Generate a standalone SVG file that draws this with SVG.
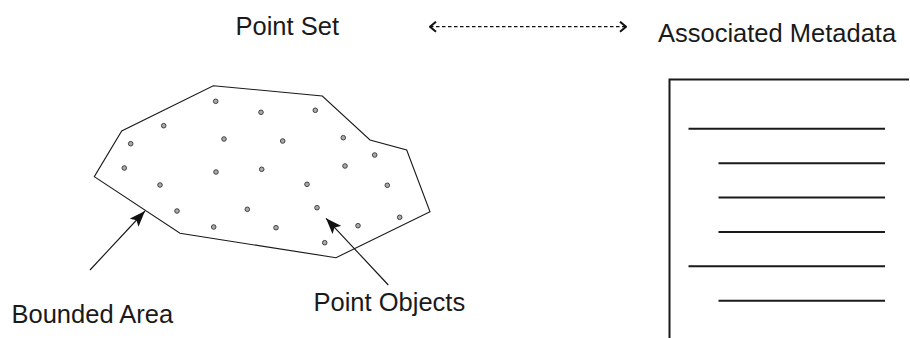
<svg xmlns="http://www.w3.org/2000/svg" width="910" height="338" viewBox="0 0 910 338">
<defs>
<style>
.lbl{font-family:"Liberation Sans",Arial,sans-serif;font-size:25.5px;fill:#1a1a1a}
.dot{fill:#aaa;stroke:#333;stroke-width:0.9}
.thin{fill:none;stroke:#1a1a1a;stroke-width:1.1}
.doc{fill:none;stroke:#1a1a1a;stroke-width:2}
</style>
<marker id="solid" viewBox="0 0 16 12" refX="16" refY="6" markerWidth="16" markerHeight="12" markerUnits="userSpaceOnUse" orient="auto">
<path d="M0,0 L16,6 L0,12 L3.5,6 Z" fill="#111"/>
</marker>
<marker id="chev" viewBox="0 0 8 12" refX="7" refY="6" markerWidth="8" markerHeight="12" markerUnits="userSpaceOnUse" orient="auto-start-reverse">
<path d="M1,1 L7,6 L1,11" fill="none" stroke="#111" stroke-width="2"/>
</marker>
</defs>
<rect width="910" height="338" fill="#fff"/>

<g id="point-set-label"><text class="lbl" x="235.5" y="35">Point Set</text></g>
<g id="metadata-label"><text class="lbl" x="658" y="41.5">Associated Metadata</text></g>

<g id="point-set">
<polygon class="thin" points="213.3,85.7 322.3,96 370,140 406.7,150 430,211.7 336,257.7 180,233.3 94.3,176.7 121.7,131"/>
<g>
<circle class="dot" cx="215.7" cy="101.3" r="2.3"/>
<circle class="dot" cx="261" cy="112.3" r="2.3"/>
<circle class="dot" cx="315.3" cy="110.3" r="2.3"/>
<circle class="dot" cx="163.7" cy="125.7" r="2.3"/>
<circle class="dot" cx="130.7" cy="143.7" r="2.3"/>
<circle class="dot" cx="224" cy="139" r="2.3"/>
<circle class="dot" cx="282.7" cy="141" r="2.3"/>
<circle class="dot" cx="343.3" cy="137.7" r="2.3"/>
<circle class="dot" cx="374.7" cy="155" r="2.3"/>
<circle class="dot" cx="124.3" cy="168" r="2.3"/>
<circle class="dot" cx="216" cy="172" r="2.3"/>
<circle class="dot" cx="261.7" cy="169.3" r="2.3"/>
<circle class="dot" cx="345" cy="166" r="2.3"/>
<circle class="dot" cx="160" cy="185" r="2.3"/>
<circle class="dot" cx="307" cy="184.3" r="2.3"/>
<circle class="dot" cx="387.3" cy="185.3" r="2.3"/>
<circle class="dot" cx="177" cy="211" r="2.3"/>
<circle class="dot" cx="247.3" cy="209.3" r="2.3"/>
<circle class="dot" cx="317" cy="207.7" r="2.3"/>
<circle class="dot" cx="399.7" cy="217.3" r="2.3"/>
<circle class="dot" cx="213.7" cy="227" r="2.3"/>
<circle class="dot" cx="276" cy="227.7" r="2.3"/>
<circle class="dot" cx="358" cy="225.7" r="2.3"/>
<circle class="dot" cx="324.7" cy="242.7" r="2.3"/>
</g>
</g>

<g id="metadata-doc">
<path class="doc" d="M669.5,345 V79.5 H909"/>
<line class="doc" x1="688.5" y1="128.7" x2="885" y2="128.7"/>
<line class="doc" x1="718.5" y1="163.3" x2="885" y2="163.3"/>
<line class="doc" x1="718.5" y1="197.5" x2="885" y2="197.5"/>
<line class="doc" x1="718.5" y1="232" x2="885" y2="232"/>
<line class="doc" x1="688.5" y1="266.3" x2="885" y2="266.3"/>
<line class="doc" x1="718.5" y1="300.7" x2="885" y2="300.7"/>
</g>

<g id="bounded-area-label"><text class="lbl" x="11.5" y="323.3">Bounded Area</text></g>
<g id="point-objects-label"><text class="lbl" x="313.5" y="311">Point Objects</text></g>

<g id="connectors">
<line x1="430" y1="26.7" x2="626" y2="26.7" stroke="#111" stroke-width="1.3" stroke-dasharray="3.5,2.5" marker-start="url(#chev)" marker-end="url(#chev)"/>
<line x1="90" y1="270" x2="145" y2="211" stroke="#111" stroke-width="1.1" marker-end="url(#solid)"/>
<line x1="388.3" y1="285" x2="326" y2="218.3" stroke="#111" stroke-width="1.1" marker-end="url(#solid)"/>
</g>
</svg>
